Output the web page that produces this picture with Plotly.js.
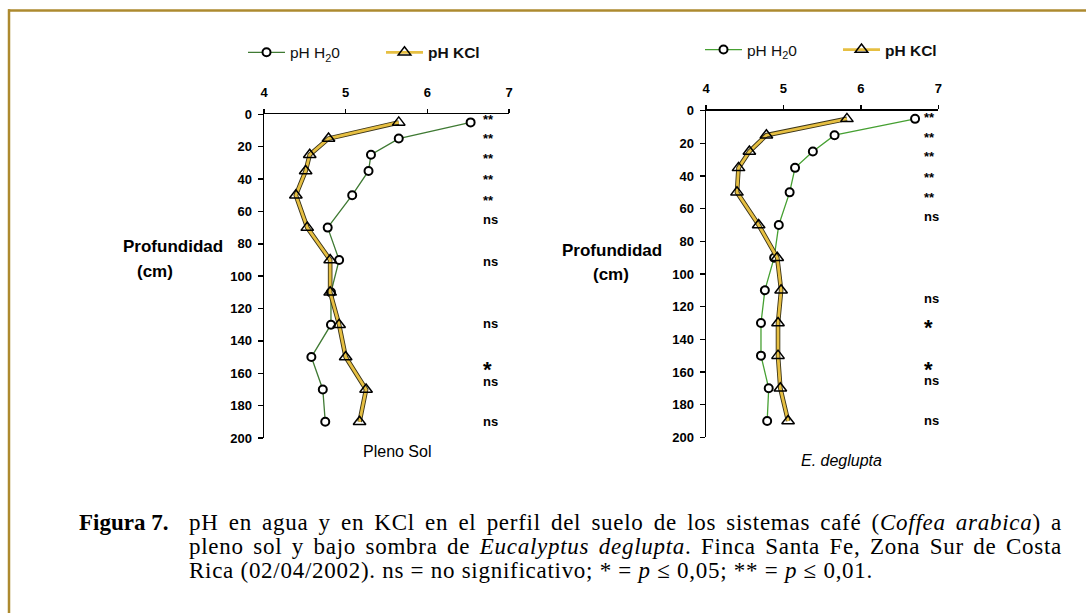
<!DOCTYPE html>
<html><head><meta charset="utf-8">
<script src="https://cdn.plot.ly/plotly-3.0.1.min.js"></script>
<style>html,body{margin:0;padding:0;background:#fff;}#chart{width:1086px;height:613px;}</style>
</head><body><div id="chart"></div>
<script>
// ---- data ----
const depth = [5, 15, 25, 35, 50, 70, 90, 110, 130, 150, 170, 190];
const solH2O = [6.53, 5.65, 5.31, 5.28, 5.08, 4.78, 4.92, 4.82, 4.82, 4.58, 4.72, 4.75];
const solKCl = [5.65, 4.79, 4.56, 4.51, 4.39, 4.53, 4.81, 4.81, 4.92, 5.00, 5.25, 5.17];
const eucH2O = [6.70, 5.66, 5.38, 5.15, 5.08, 4.94, 4.88, 4.76, 4.71, 4.71, 4.81, 4.79];
const eucKCl = [5.82, 4.78, 4.56, 4.42, 4.40, 4.68, 4.92, 4.97, 4.93, 4.93, 4.96, 5.06];
const solSig = ['**', '**', '**', '**', '**', 'ns', 'ns', 'ns', '*', 'ns', 'ns'];
const solSigDepth = [1, 13, 25, 38, 51, 65, 91, 129, 154, 165, 190];
const eucSig = ['**', '**', '**', '**', '**', 'ns', 'ns', '*', '*', 'ns', 'ns'];
const eucSigDepth = [2, 14, 26, 39, 51, 65, 115, 129, 155, 165, 190];
const seriesNames = ['pH H<sub>2</sub>0', '<b>pH KCl</b>'];
const panelNames = ['Pleno Sol', '<i>E. deglupta</i>'];
const xTicks = [4, 5, 6, 7];
const captionHead = '<b>Figura 7.</b>';
const captionLines = [
  'pH en agua y en KCl en el perfil del suelo de los sistemas café (<i>Coffea arabica</i>) a',
  'pleno sol y bajo sombra de <i>Eucalyptus deglupta</i>. Finca Santa Fe, Zona Sur de Costa',
  'Rica (02/04/2002). ns = no significativo; * = <i>p</i> ≤ 0,05; ** = <i>p</i> ≤ 0,01.'
];

// ---- helpers ----
const W = 1086, H = 613;
const px = v => v / W;
const py = v => 1 - v / H;
const SANS = 'Liberation Sans, Arial, sans-serif';
const SERIF = 'Liberation Serif, Times New Roman, serif';

function panel(h2o, kcl, xa, ya, leg, green) {
  return [
    {x: h2o, y: depth, xaxis: xa, yaxis: ya, mode: 'lines+markers', name: seriesNames[0], legend: leg,
     line: {color: green, width: 1.3},
     marker: {symbol: 'circle', size: 8, color: 'white', line: {color: 'black', width: 2}}},
    {x: kcl, y: depth, xaxis: xa, yaxis: ya, mode: 'lines', showlegend: false, hoverinfo: 'skip',
     line: {color: '#3b3418', width: 4.6}},
    {x: kcl, y: depth, xaxis: xa, yaxis: ya, mode: 'lines+markers', name: seriesNames[1], legend: leg,
     line: {color: '#e6bf42', width: 2.8},
     marker: {symbol: 'triangle-up', size: 11, color: 'rgba(0,0,0,0)', line: {color: 'black', width: 1.5}}}
  ];
}

const data = [
  ...panel(solH2O, solKCl, 'x', 'y', 'legend', '#3f7a33'),
  ...panel(eucH2O, eucKCl, 'x2', 'y2', 'legend2', '#46a032')
];

function xAxis(d0, d1, anchor) {
  return {domain: [px(d0), px(d1)], range: [4, 7], side: 'top', anchor: anchor,
    tickvals: xTicks, showline: true, linecolor: 'black', linewidth: 1.5,
    ticks: 'outside', ticklen: 4, tickwidth: 1.5, tickcolor: 'black', ticklabelstandoff: 7,
    tickfont: {family: SANS, size: 13, color: 'black', weight: 'bold'},
    showgrid: false, zeroline: false, fixedrange: true};
}
function yAxis(t, b, anchor) {
  return {domain: [py(b), py(t)], range: [200, 0], anchor: anchor, dtick: 20,
    showline: true, linecolor: 'black', linewidth: 1.5,
    ticks: 'outside', ticklen: 5, tickwidth: 1.5, tickcolor: 'black', ticklabelstandoff: 3,
    tickfont: {family: SANS, size: 13, color: 'black', weight: 'bold'},
    showgrid: false, zeroline: false, fixedrange: true};
}

function sigAnn(labels, depths, xa, ya, xv) {
  return labels.map((t, i) => {
    const big = t === '*';
    const size = big ? 22 : 13;
    return {xref: xa, yref: ya, x: xv, y: depths[i], text: '<b>' + t + '</b>', showarrow: false,
      xanchor: 'left', yanchor: 'middle', yshift: (t === 'ns') ? 0 : -0.27 * size,
      font: {family: SANS, size: size, color: 'black'}};
  });
}

const txt = (x, y, text, opts) => Object.assign({xref: 'paper', yref: 'paper', x: px(x), y: py(y), text: text,
  showarrow: false, xanchor: 'center', yanchor: 'middle', font: {family: SANS, size: 16, color: 'black'}}, opts || {});

const capFont = {family: SERIF, size: 23, color: 'black'};
const annotations = [
  ...sigAnn(solSig, solSigDepth, 'x', 'y', 6.66),
  ...sigAnn(eucSig, eucSigDepth, 'x2', 'y2', 6.79),
  txt(173, 247, '<b>Profundidad</b>', {font: {family: SANS, size: 17, color: 'black'}}),
  txt(155, 271, '<b>(cm)</b>', {font: {family: SANS, size: 17, color: 'black'}}),
  txt(612, 250, '<b>Profundidad</b>', {font: {family: SANS, size: 17, color: 'black'}}),
  txt(611, 274, '<b>(cm)</b>', {font: {family: SANS, size: 17, color: 'black'}}),
  txt(397, 451, panelNames[0]),
  txt(841, 460, panelNames[1]),
  txt(77, 522, captionHead, {xanchor: 'left', align: 'left', font: {family: SERIF, size: 23, color: 'black'}})
];
const capStart = annotations.length;
captionLines.forEach((t, i) => annotations.push(txt(187, 522 + 24 * i, t, {xanchor: 'left', align: 'left', font: capFont})));

const legendBase = {orientation: 'h', xanchor: 'left', yanchor: 'middle', bgcolor: 'rgba(0,0,0,0)',
  font: {family: SANS, size: 15.5, color: '#111'}, entrywidth: 86, entrywidthmode: 'pixels', itemwidth: 37};

const layout = {
  width: W, height: H, autosize: false,
  margin: {l: 0, r: 0, t: 0, b: 0},
  paper_bgcolor: 'white', plot_bgcolor: 'rgba(0,0,0,0)',
  showlegend: true,
  xaxis: xAxis(264, 509, 'y'),
  yaxis: yAxis(114.3, 438, 'x'),
  xaxis2: xAxis(706, 938.3, 'y2'),
  yaxis2: yAxis(110.7, 437.3, 'x2'),
  legend: Object.assign({}, legendBase, {x: px(243), y: py(52.7)}),
  legend2: Object.assign({}, legendBase, {x: px(700), y: py(50)}),
  shapes: [
    {type: 'line', xref: 'paper', yref: 'paper', x0: px(8), x1: 1, y0: py(10.5), y1: py(10.5), line: {color: '#ad8a2f', width: 2.5}},
    {type: 'line', xref: 'paper', yref: 'paper', x0: px(9), x1: px(9), y0: py(9.3), y1: 0, line: {color: '#ad8a2f', width: 2.5}}
  ],
  annotations: annotations
};

Plotly.newPlot('chart', data, layout, {displayModeBar: false, staticPlot: true}).then(gd => {
  // caption set like the printed figure: slight tracking, first two lines justified
  const getT = k => gd.querySelector('g.annotation[data-index="' + (capStart + k) + '"] text.annotation-text');
  const lastEdge = 873, rightEdge = 1062;
  const t3 = getT(2);
  let ls = 0;
  if (t3) {
    const bb = t3.getBoundingClientRect();
    const n = t3.textContent.length;
    ls = Math.max(0, (lastEdge - bb.right) / n);
  }
  [0, 1, 2].forEach(k => {
    const t = getT(k);
    if (!t) return;
    const left0 = t.getBoundingClientRect().left;
    t.style.letterSpacing = ls + 'px';
    if (k < 2) {
      const right1 = t.getBoundingClientRect().right;
      const spaces = (t.textContent.match(/ /g) || []).length;
      const extra = rightEdge - right1;
      if (spaces > 0 && extra > 0) t.style.wordSpacing = (extra / spaces) + 'px';
    }
    const shift = left0 - t.getBoundingClientRect().left;
    if (Math.abs(shift) > 0.5) t.setAttribute('transform', 'translate(' + shift + ',0)');
  });
});
</script></body></html>
